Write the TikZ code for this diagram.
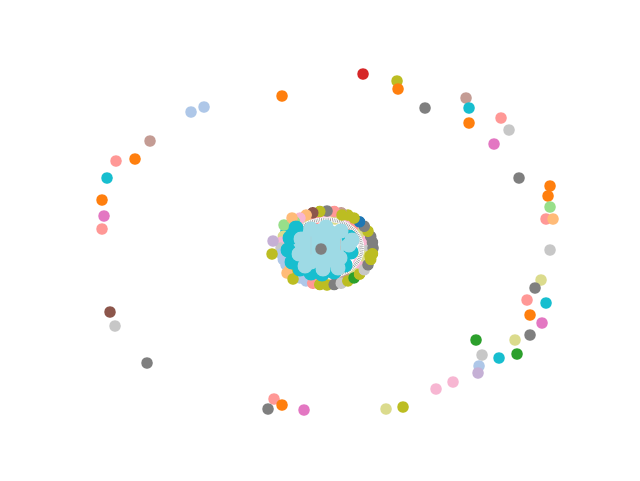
\documentclass[tikz,border=0pt]{standalone}
\definecolor{tblue}{HTML}{1F77B4}
\definecolor{tlblue}{HTML}{AEC7E8}
\definecolor{torange}{HTML}{FF7F0E}
\definecolor{tlorange}{HTML}{FFBB78}
\definecolor{tgreen}{HTML}{2CA02C}
\definecolor{tlgreen}{HTML}{98DF8A}
\definecolor{tred}{HTML}{D62728}
\definecolor{tlred}{HTML}{FF9896}
\definecolor{tpurple}{HTML}{9467BD}
\definecolor{tlpurple}{HTML}{C5B0D5}
\definecolor{tbrown}{HTML}{8C564B}
\definecolor{tlbrown}{HTML}{C49C94}
\definecolor{tpink}{HTML}{E377C2}
\definecolor{tlpink}{HTML}{F7B6D2}
\definecolor{tgray}{HTML}{7F7F7F}
\definecolor{tlgray}{HTML}{C7C7C7}
\definecolor{tolive}{HTML}{BCBD22}
\definecolor{tlolive}{HTML}{DBDB8D}
\definecolor{tcyan}{HTML}{17BECF}
\definecolor{tlcyan}{HTML}{9EDAE5}
\begin{document}
\begin{tikzpicture}[x=1pt,y=-1pt,
  dot/.style={circle,inner sep=0pt,minimum size=11.5pt,draw=none},
  bigdot/.style={circle,inner sep=0pt,minimum size=15pt,draw=none}]
\useasboundingbox (0,0) rectangle (640,480);
\fill[white] (0,0) rectangle (640,480);
% second (inner) ring of pastel nodes
\foreach \a/\c [count=\i] in {0/tlgray,15/tlpink,30/tlolive,45/tlred,60/tlpink,75/tlolive,90/tlpink,105/tlred,120/tlolive,135/tlpink,150/tlolive,165/tlpink,180/tlolive,195/tlpink,210/tlred,225/tlolive,240/tlpink,255/tlred,270/tlolive,285/tlpink,300/tlbrown,315/tlolive,330/tlpink,345/tlolive}
  \node[dot,fill=\c] (r\i) at ({325+39*cos(\a)},{248-30*sin(\a)}) {};
% hatched ring of edges
\coordinate (hc) at (326,248);
\draw[white,line width=4.5pt] (hc) ellipse [x radius=36,y radius=28.5];
\draw[tgray!70,line width=3.5pt,dash pattern=on 0.7pt off 1.1pt] (hc) ellipse [x radius=36,y radius=28.5];
% outer ring
\foreach \a/\c [count=\i] in {0/tgray,9/tgray,18/tgray,27/tolive,36/tgray,45/tblue,54/tolive,63/tolive,72/tlbrown,81/tlred,90/tgray,99/tolive,108/tbrown,117/tlorange,126/tlpink,135/tlgreen,144/tlblue,153/tcyan,162/tlolive,171/tlpink,180/tlgray,189/tlblue,198/tlblue,207/tlblue,216/tlorange,225/tolive,234/tlblue,243/tlblue,252/tlred,261/tolive,270/tolive,279/tgray,288/tlgray,297/tolive,306/tgreen,315/tolive,324/tlgray,333/tgray,342/tolive,351/tolive}
  \node[dot,fill=\c] (o\i) at ({327+46*cos(\a)},{248-37*sin(\a)}) {};
\node[dot,fill=tlgreen] (x1) at (284,225) {};
\node[dot,fill=tlpurple] (x2) at (273,241) {};
\node[dot,fill=tolive] (x3) at (272,254) {};
\node[dot,fill=tlorange] (x4) at (287,273) {};
\node[dot,fill=tolive] (x5) at (293,279) {};
\node[dot,fill=tlorange] (x6) at (292,218) {};
\node[dot,fill=tolive] (x7) at (342,215) {};
\node[dot,fill=tolive] (x8) at (370,256) {};
% inner core
\fill[tlcyan] (321,249) ellipse [x radius=32,y radius=25];
\foreach \x/\y [count=\i] in {290/238,288/250,292/262,300/269,311/273,322/274,334/272,345/265,351/252,349/237,296/228}
  \node[bigdot,fill=tcyan] (c\i) at (\x,\y) {};
\foreach \x/\y [count=\i] in {301/239,299/254,311/229,326/227,341/231,349/245,340/258,327/261,311/262,312/248,331/244,305/266,338/268,323/269,318/237,334/252,352/240}
  \node[bigdot,fill=tlcyan] (l\i) at (\x,\y) {};
\draw[tgray!50,line width=0.4pt] (l10) -- (l11) (l5) -- (l7) (l3) -- (l9);
\node[dot,fill=tgray] (ctr) at (321,249) {};
% outlying nodes
\foreach \x/\y/\c [count=\i] in {
363/74/tred,397/81/tolive,398/89/torange,282/96/torange,425/108/tgray,
466/98/tlbrown,469/108/tcyan,469/123/torange,501/118/tlred,509/130/tlgray,
494/144/tpink,519/178/tgray,550/186/torange,548/196/torange,550/207/tlgreen,
546/219/tlred,553/219/tlorange,550/250/tlgray,541/280/tlolive,535/288/tgray,
527/300/tlred,546/303/tcyan,530/315/torange,542/323/tpink,530/335/tgray,
476/340/tgreen,515/340/tlolive,482/355/tlgray,499/358/tcyan,517/354/tgreen,
479/366/tlblue,478/373/tlpurple,453/382/tlpink,436/389/tlpink,403/407/tolive,
386/409/tlolive,304/410/tpink,274/399/tlred,282/405/torange,268/409/tgray,
147/363/tgray,110/312/tbrown,115/326/tlgray,102/229/tlred,104/216/tpink,
102/200/torange,107/178/tcyan,116/161/tlred,135/159/torange,150/141/tlbrown,
191/112/tlblue,204/107/tlblue}
  \node[dot,fill=\c] (p\i) at (\x,\y) {};
\end{tikzpicture}
\end{document}
